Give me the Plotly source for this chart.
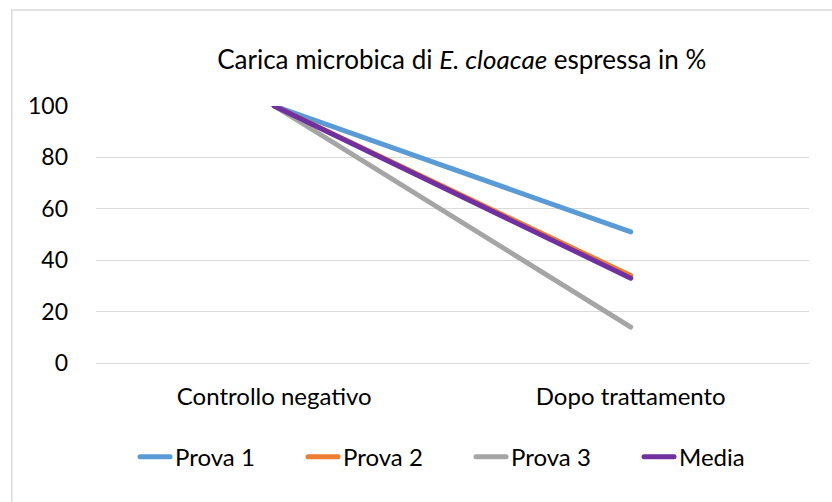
import plotly.graph_objects as go

categories = ["Controllo negativo", "Dopo trattamento"]
prova1 = [100, 51]
prova2 = [100, 34]
prova3 = [100, 14]
media = [100, 33]
series_names = ["Prova 1", "Prova 2", "Prova 3", "Media"]
series_values = [prova1, prova2, prova3, media]
colors = ["#5b9bd5", "#ed7d31", "#a5a5a5", "#7030a0"]
y_ticks = [0, 20, 40, 60, 80, 100]

FONT = "Lato, 'Open Sans', sans-serif"

fig = go.Figure()
for name, vals, col in zip(series_names, series_values, colors):
    fig.add_trace(go.Scatter(
        x=categories, y=vals, name=name, mode="lines",
        line=dict(color=col, width=5),
    ))

fig.update_layout(
    width=832, height=502,
    paper_bgcolor="white", plot_bgcolor="white",
    margin=dict(l=96, r=23, t=106, b=139),
    title=dict(text="Carica microbica di <i>E. cloacae</i> espressa in %",
               xref="paper", x=0.513, xanchor="center",
               yref="container", y=0.88, yanchor="middle",
               font=dict(family=FONT, size=26, color="#000000")),
    font=dict(family=FONT, size=24, color="#000000"),
    xaxis=dict(type="category", range=[-0.5, 1.5], showgrid=False,
               showline=True, linecolor="#d9d9d9", linewidth=1,
               ticks="", tickfont=dict(size=24), ticklabelstandoff=12, fixedrange=True),
    yaxis=dict(range=[0, 100], tickvals=y_ticks, showgrid=True,
               gridcolor="#d9d9d9", gridwidth=1, zeroline=False,
               showline=False, ticks="", tickfont=dict(size=23),
               ticklabelstandoff=27, fixedrange=True),
    legend=dict(orientation="h", x=0.526, xanchor="center", y=-0.366, yanchor="middle",
                font=dict(size=24), entrywidth=123, entrywidthmode="pixels",
                tracegroupgap=0, bgcolor="rgba(0,0,0,0)"),
    showlegend=True,
    shapes=[dict(type="rect", xref="paper", yref="paper",
                 x0=-0.118, x1=1.2, y0=-0.7, y1=1.3735,
                 line=dict(color="#d9d9d9", width=1.5), layer="below")],
)

post = (
    "document.body.style.margin='0';"
    "document.querySelectorAll('.scatterlayer .js-line, .legendlines path')"
    ".forEach(function(p){p.style.strokeLinecap='round';});"
)
fig.write_html("out.html", config={"displayModeBar": False}, post_script=post)
